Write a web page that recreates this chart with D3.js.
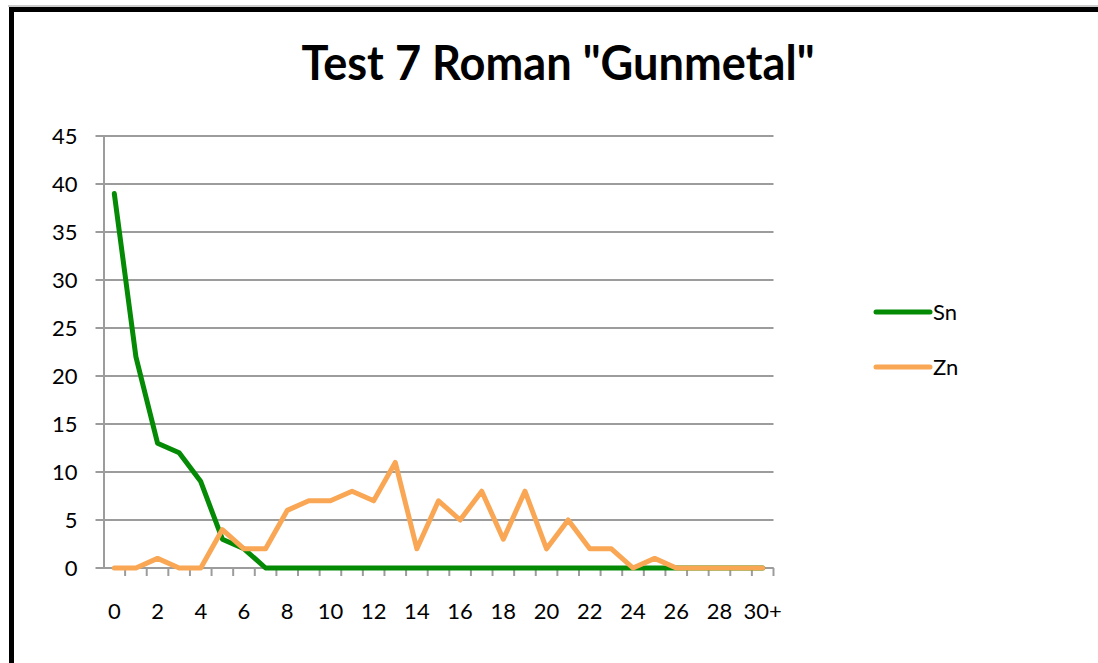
<!DOCTYPE html>
<html>
<head>
<meta charset="utf-8">
<script src="https://cdn.jsdelivr.net/npm/d3@7"></script>
<style>
  body { margin: 0; background: #fff; }
  svg text { font-family: Lato, "Open Sans", sans-serif; fill: #000; }
</style>
</head>
<body>
<svg></svg>
<script>
let width = 1098
let height = 663

let title = 'Test 7 Roman "Gunmetal"'
let categories = ['0','1','2','3','4','5','6','7','8','9','10','11','12','13','14','15','16','17','18','19','20','21','22','23','24','25','26','27','28','29','30+']
let snValues = [39,22,13,12,9,3,2,0,0,0,0,0,0,0,0,0,0,0,0,0,0,0,0,0,0,0,0,0,0,0,0]
let znValues = [0,0,1,0,0,4,2,2,6,7,7,8,7,11,2,7,5,8,3,8,2,5,2,2,0,1,0,0,0,0,0]
let yTicks = [0,5,10,15,20,25,30,35,40,45]
let seriesNames = ['Sn','Zn']
let colors = ['#058a05','#f9a755']

let svg = d3.select('svg')
    .attr('width', width)
    .attr('height', height)

// frame around the chart
svg.append('line')
   .attr('x1', 8).attr('x2', width)
   .attr('y1', 6).attr('y2', 6)
   .attr('stroke', '#999').attr('stroke-width', 1)
svg.append('rect')
   .attr('x', 11.5).attr('y', 9.5)
   .attr('width', width + 20).attr('height', height + 20)
   .attr('fill', 'none')
   .attr('stroke', '#000')
   .attr('stroke-width', 5)

svg.append('text')
   .attr('x', 558).attr('y', 80)
   .attr('text-anchor', 'middle')
   .attr('font-size', 48)
   .attr('font-weight', 'bold')
   .attr('textLength', 513)
   .attr('lengthAdjust', 'spacingAndGlyphs')
   .text(title)

let plotLeft = 103.5, plotRight = 773.5, plotTop = 136, plotBottom = 568

let xScale = d3.scaleBand()
    .domain(categories)
    .range([plotLeft, plotRight])

let yScale = d3.scaleLinear()
    .domain([0, 45])
    .range([plotBottom, plotTop])

// gridlines
svg.append('g')
   .selectAll('line')
   .data(yTicks)
   .enter()
   .append('line')
   .attr('x1', plotLeft - 8)
   .attr('x2', plotRight)
   .attr('y1', d => yScale(d))
   .attr('y2', d => yScale(d))
   .attr('stroke', '#9c9c9c')
   .attr('stroke-width', 2)

// y axis
let yAxis = d3.axisLeft(yScale).tickValues(yTicks).tickSize(0).tickPadding(26)
svg.append('g')
   .attr('transform', 'translate(' + plotLeft + ',0)')
   .call(yAxis)
   .call(g => g.select('.domain').attr('stroke', '#9c9c9c').attr('stroke-width', 2))
   .call(g => g.selectAll('text').attr('font-size', 22).attr('dy', '0.35em'))

// x axis
let xAxis = d3.axisBottom(xScale)
    .tickValues(categories.filter((d, i) => i % 2 === 0))
    .tickSize(0)
    .tickPadding(35)
svg.append('g')
   .attr('transform', 'translate(0,' + plotBottom + ')')
   .call(xAxis)
   .call(g => g.select('.domain').remove())
   .call(g => g.selectAll('text').attr('font-size', 22))

svg.append('line')
   .attr('x1', plotLeft).attr('x2', plotRight)
   .attr('y1', plotBottom).attr('y2', plotBottom)
   .attr('stroke', '#9c9c9c').attr('stroke-width', 2)

svg.append('g')
   .selectAll('line')
   .data(categories)
   .enter()
   .append('line')
   .attr('x1', d => xScale(d) + xScale.bandwidth())
   .attr('x2', d => xScale(d) + xScale.bandwidth())
   .attr('y1', plotBottom)
   .attr('y2', plotBottom + 8)
   .attr('stroke', '#9c9c9c')
   .attr('stroke-width', 2)

// series lines
let line = d3.line()
    .x((d, i) => xScale(categories[i]) + xScale.bandwidth() / 2)
    .y(d => yScale(d))

let allSeries = [snValues, znValues]
svg.append('g')
   .selectAll('path')
   .data(allSeries)
   .enter()
   .append('path')
   .attr('d', d => line(d))
   .attr('fill', 'none')
   .attr('stroke', (d, i) => colors[i])
   .attr('stroke-width', 5)
   .attr('stroke-linejoin', 'round')
   .attr('stroke-linecap', 'round')

// legend
let legend = svg.append('g')
    .selectAll('g')
    .data(seriesNames)
    .enter()
    .append('g')
    .attr('transform', (d, i) => 'translate(876,' + (312 + i * 55) + ')')

legend.append('line')
   .attr('x1', 0).attr('x2', 54)
   .attr('stroke', (d, i) => colors[i])
   .attr('stroke-width', 5)
   .attr('stroke-linecap', 'round')

legend.append('text')
   .attr('x', 57)
   .attr('dy', '0.35em')
   .attr('font-size', 22)
   .text(d => d)
</script>
</body>
</html>
